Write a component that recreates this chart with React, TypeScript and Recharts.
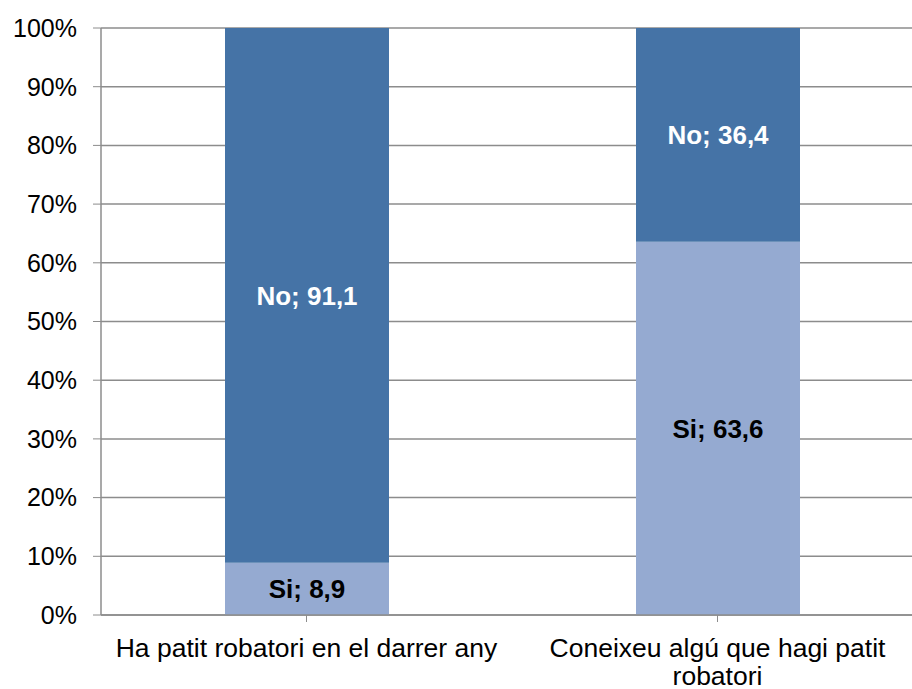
import React from 'react';
import { BarChart, Bar, XAxis, YAxis, CartesianGrid, LabelList } from 'recharts';

// Categories and stacked shares (%)
const categories = ['Ha patit robatori en el darrer any', 'Coneixeu algú que hagi patit robatori'];
const si = [8.9, 63.6];
const no = [91.1, 36.4];
const yTicks = [0, 10, 20, 30, 40, 50, 60, 70, 80, 90, 100];

const data = categories.map((name, i) => ({ name, si: si[i], no: no[i] }));

const FONT = '"Liberation Sans", Arial, sans-serif';
const AXIS = '#8c8c8c';
const X_FONT_SIZE = 26.5;

const fmt = (prefix: string) => (v: any) => `${prefix}; ${String(v).replace('.', ',')}`;

// simple word wrap measured with a canvas
let ctx: CanvasRenderingContext2D | null = null;
const wrap = (label: string, maxWidth: number) => {
  if (!ctx) ctx = document.createElement('canvas').getContext('2d');
  if (!ctx) return [label];
  ctx.font = `${X_FONT_SIZE}px ${FONT}`;
  const lines: string[] = [];
  let cur = '';
  for (const w of label.split(' ')) {
    const next = cur ? cur + ' ' + w : w;
    if (cur && ctx.measureText(next).width > maxWidth) {
      lines.push(cur);
      cur = w;
    } else cur = next;
  }
  if (cur) lines.push(cur);
  return lines;
};

const XTick = ({ x, y, payload }: any) => {
  const lines = wrap(payload.value, 395);
  return (
    <text x={x} y={y + 33} textAnchor="middle" fontSize={X_FONT_SIZE} fontFamily={FONT} fill="#000">
      {lines.map((l, i) => (
        <tspan key={i} x={x} dy={i === 0 ? 0 : 28}>
          {l}
        </tspan>
      ))}
    </text>
  );
};

export default function App() {
  return (
    <div style={{ position: 'absolute', left: 0, top: 0, width: 912, height: 689, overflow: 'hidden', background: '#fff' }}>
      <BarChart
        width={923}
        height={689}
        data={data}
        margin={{ top: 28, right: 0, left: 0, bottom: 0 }}
        barCategoryGap="20%"
      >
        <CartesianGrid vertical={false} stroke={AXIS} strokeWidth={1.5} />
        <XAxis
          dataKey="name"
          height={74}
          interval={0}
          tick={(props: any) => <XTick {...props} />}
          tickLine={{ stroke: AXIS }}
          tickSize={7}
          axisLine={{ stroke: AXIS, strokeWidth: 1.5 }}
          padding={{ left: 0, right: 0 }}
          scale="band"
        />
        <YAxis
          width={101}
          domain={[0, 100]}
          ticks={yTicks}
          interval={0}
          tickFormatter={(v) => `${v}%`}
          tick={{ fontSize: 25, fontFamily: FONT, fill: '#000' }}
          tickSize={8}
          tickMargin={16}
          tickLine={{ stroke: AXIS }}
          axisLine={{ stroke: AXIS, strokeWidth: 1.5 }}
        />
        <Bar dataKey="si" stackId="a" fill="#95AAD1" barSize={164} isAnimationActive={false}>
          <LabelList
            dataKey="si"
            position="center"
            formatter={fmt('Si')}
            style={{ fontSize: 26, fontWeight: 'bold', fontFamily: FONT, fill: '#000' }}
          />
        </Bar>
        <Bar dataKey="no" stackId="a" fill="#4573A6" barSize={164} isAnimationActive={false}>
          <LabelList
            dataKey="no"
            position="center"
            formatter={fmt('No')}
            style={{ fontSize: 26, fontWeight: 'bold', fontFamily: FONT, fill: '#fff' }}
          />
        </Bar>
      </BarChart>
    </div>
  );
}
